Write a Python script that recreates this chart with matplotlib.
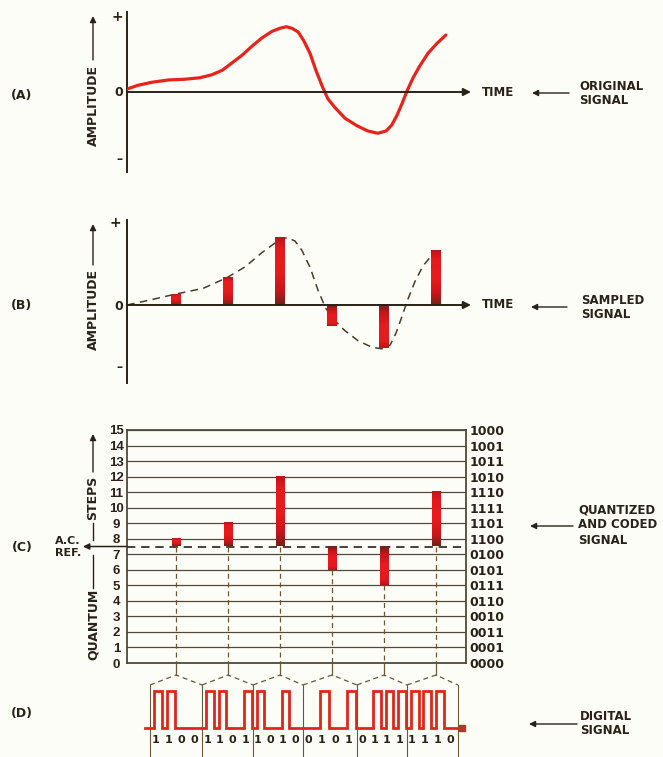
import matplotlib.pyplot as plt
from matplotlib.colors import LinearSegmentedColormap
import numpy as np

# (A) original signal (time in sample periods)
orig_t = [0.06, 0.27, 0.54, 0.85, 1.17, 1.46, 1.69, 1.89, 2.08, 2.27, 2.46, 2.65,
          2.85, 3.00, 3.12, 3.23, 3.35, 3.46, 3.58, 3.69, 3.81, 3.92, 4.06, 4.25,
          4.48, 4.69, 4.88, 5.04, 5.15, 5.25, 5.35, 5.44, 5.56, 5.69, 5.85, 6.02, 6.19]
orig_amp = [0.04, 0.09, 0.13, 0.16, 0.17, 0.19, 0.23, 0.29, 0.39, 0.49, 0.61, 0.72,
            0.81, 0.85, 0.87, 0.85, 0.80, 0.68, 0.51, 0.29, 0.08, -0.09, -0.21, -0.35,
            -0.45, -0.52, -0.55, -0.52, -0.44, -0.31, -0.15, 0.01, 0.19, 0.35, 0.52, 0.65, 0.76]

# (B) dashed envelope and the samples
env_t = [0.06, 0.50, 0.98, 1.52, 1.98, 2.33, 2.65, 3.02, 3.15, 3.29, 3.42, 3.58,
         3.73, 3.88, 4.04, 4.25, 4.50, 4.77, 4.98, 5.12, 5.23, 5.35, 5.46, 5.60,
         5.75, 5.92, 6.15]
env_amp = [0.0, 0.06, 0.13, 0.20, 0.33, 0.46, 0.63, 0.80, 0.81, 0.77, 0.66, 0.45,
           0.18, -0.04, -0.18, -0.31, -0.43, -0.51, -0.53, -0.48, -0.34, -0.13, 0.07, 0.29,
           0.47, 0.60, 0.68]
sample_t = [1, 2, 3, 4, 5, 6]
sample_amp = [0.13, 0.33, 0.81, -0.25, -0.52, 0.66]

# (C) quantum steps and their codes
levels = list(range(16))
codes = ['0000', '0001', '0011', '0010', '0110', '0111', '0101', '0100',
         '1100', '1101', '1111', '1110', '1010', '1011', '1001', '1000']
quant = [8, 9, 12, 6, 5, 11]
ac_ref = 7.5

# (D) digital word frames
frame_edges = [0.50, 1.50, 2.48, 3.44, 4.48, 5.44, 6.42]
line_start, line_end = 0.40, 6.50

BG = '#fdfdf7'
RED = '#e8231c'
INK = '#2a2118'
GRID = '#51483a'
BROWN = '#6a5638'
FONT = 'DejaVu Sans'

W, H = 663, 757
fig = plt.figure(figsize=(W / 100, H / 100), dpi=100)
fig.patch.set_facecolor(BG)


def t_of(px):
    return (px - 124) / 52.0


def add_px_axes(x0, y0, x1, y1):
    ax = fig.add_axes([x0 / W, 1 - y1 / H, (x1 - x0) / W, (y1 - y0) / H])
    ax.set_facecolor('none')
    return ax


# overlay in pixel coordinates for the captions
ov = add_px_axes(0, 0, W, H)
ov.set_xlim(0, W)
ov.set_ylim(H, 0)
ov.axis('off')


def txt(x, y, s, size=8.5, ha='left', rot=0):
    ov.text(x, y, s, fontsize=size, fontweight='bold', family=FONT, color=INK,
            ha=ha, va='center', rotation=rot)


def arrow(x0, y0, x1, y1, lw=1.0):
    ov.annotate('', xy=(x1, y1), xytext=(x0, y0),
                arrowprops=dict(arrowstyle='-|>', color=INK, lw=lw,
                                mutation_scale=9, shrinkA=0, shrinkB=0))


bar_cmap = LinearSegmentedColormap.from_list(
    'bar', [(0, '#6e2418'), (0.2, '#c8151a'), (0.5, '#e81c1e'),
            (0.85, '#e41a1e'), (1, '#b8161a')])


def grad_bar(ax, t, y0, y1, w):
    g = np.linspace(0, 1, 64).reshape(-1, 1)
    ax.imshow(g, extent=(t - w / 2, t + w / 2, y0, y1), origin='lower',
              cmap=bar_cmap, aspect='auto', interpolation='bilinear', zorder=3)


# ---------- (A) original signal ----------
axA = add_px_axes(127, 12, 480, 172)
axA.plot(orig_t, orig_amp, color=RED, lw=2.3, solid_capstyle='round',
         solid_joinstyle='round', zorder=3)
axA.set_xlim(t_of(127), t_of(480))
axA.set_ylim(-80 / 75, 80 / 75)
axA.axvline(t_of(127), color=INK, lw=1.4, clip_on=False)
axA.annotate('', xy=(t_of(471), 0), xytext=(t_of(127), 0), annotation_clip=False,
             arrowprops=dict(arrowstyle='-|>', color=INK, lw=1.4,
                             mutation_scale=11, shrinkA=0, shrinkB=0))
axA.axis('off')

txt(22, 95, '(A)', 9, 'center')
txt(93, 105, 'AMPLITUDE', 9, 'center', 90)
arrow(93, 60, 93, 16)
txt(117, 17, '+', 10, 'center')
txt(119, 93, '0', 9, 'center')
txt(119, 160, '\u2013', 9, 'center')
txt(482, 93, 'TIME')
arrow(569, 93, 532, 93)
txt(579, 87, 'ORIGINAL', 8.5)
txt(579, 101, 'SIGNAL', 8.5)

# ---------- (B) sampled signal ----------
axB = add_px_axes(127, 220, 480, 383)
axB.plot(env_t, env_amp, color='#4a3a28', lw=1.1, ls=(0, (5, 3.5)), zorder=2)
for t, a in zip(sample_t, sample_amp):
    grad_bar(axB, t, 0, a, 0.19)
axB.set_xlim(t_of(127), t_of(480))
axB.set_ylim(-78 / 83, 85 / 83)
axB.axvline(t_of(127), color=INK, lw=1.4, clip_on=False)
axB.annotate('', xy=(t_of(471), 0), xytext=(t_of(127), 0), annotation_clip=False,
             arrowprops=dict(arrowstyle='-|>', color=INK, lw=1.4,
                             mutation_scale=11, shrinkA=0, shrinkB=0))
axB.axis('off')

txt(22, 305, '(B)', 9, 'center')
txt(93, 309, 'AMPLITUDE', 9, 'center', 90)
arrow(93, 265, 93, 224)
txt(115, 223, '+', 10, 'center')
txt(119, 306, '0', 9, 'center')
txt(119, 368, '\u2013', 9, 'center')
txt(482, 305, 'TIME')
arrow(567, 307, 531, 307)
txt(581, 300, 'SAMPLED', 8.5)
txt(581, 314, 'SIGNAL', 8.5)

# ---------- (C) quantized and coded ----------
axC = add_px_axes(127, 430, 466, 663)
axC.set_yticks(levels)
axC.set_yticklabels([str(v) for v in levels], fontsize=9.5, fontweight='bold',
                    family='Liberation Sans', color=INK)
for lab in axC.get_yticklabels():
    lab.set_ha('center')
axC.tick_params(axis='y', length=0, pad=7.5)
axC.set_xticks([])
axC.grid(axis='y', color=GRID, lw=0.9)
axC.set_axisbelow(True)
for sp in axC.spines.values():
    sp.set_color(GRID)
    sp.set_linewidth(1.3)

axC2 = axC.twinx()
axC2.set_ylim(0, 15)
axC2.set_yticks(levels)
axC2.set_yticklabels(codes, fontsize=9, fontweight='bold', family=FONT, color=INK)
axC2.tick_params(axis='y', length=0, pad=2.5)
for sp in axC2.spines.values():
    sp.set_visible(False)

axC.axhline(ac_ref, color=INK, lw=1.2, ls=(0, (5, 3.5)), zorder=2)
axC.annotate('', xy=(t_of(83), ac_ref), xytext=(t_of(127), ac_ref), annotation_clip=False,
             arrowprops=dict(arrowstyle='-|>', color=INK, lw=1.1,
                             mutation_scale=9, shrinkA=0, shrinkB=0))
for t, q in zip(sample_t, quant):
    grad_bar(axC, t, ac_ref, q, 0.17)
    axC.plot([t, t], [min(q, ac_ref), 0], color=BROWN, lw=0.9,
             ls=(0, (4, 3)), zorder=2)
axC.set_xlim(t_of(127), t_of(466))
axC.set_ylim(0, 15)

txt(22, 547, '(C)', 9, 'center')
txt(68, 541, 'A.C.', 8, 'center')
txt(68, 553, 'REF.', 8, 'center')
txt(93, 624, 'QUANTUM', 9, 'center', 90)
txt(93, 498, 'STEPS', 9, 'center', 90)
ov.plot([93, 93], [555, 588], color=INK, lw=1.0)
ov.plot([93, 93], [523, 540], color=INK, lw=1.0)
arrow(93, 472, 93, 434)
arrow(573, 526, 530, 526)
txt(578, 510, 'QUANTIZED', 8.5)
txt(578, 525, 'AND CODED', 8.5)
txt(578, 540, 'SIGNAL', 8.5)

# ---------- (D) digital signal ----------
axD = add_px_axes(127, 663, 480, 757)
axD.set_xlim(t_of(127), t_of(480))
axD.set_ylim(-29 / 37, 65 / 37)
axD.axis('off')

peak_v, end_v = 53 / 37, 43 / 37
for e in frame_edges:
    axD.plot([e, e], [end_v, -29 / 37], color=BROWN, lw=0.8)
for k, t in enumerate(sample_t):
    axD.plot([t, t], [65 / 37, peak_v], color=BROWN, lw=0.9)
    axD.plot([frame_edges[k], t, frame_edges[k + 1]], [end_v, peak_v, end_v],
             color=BROWN, lw=0.9, ls=(0, (4, 3)))

xs, ys = [line_start], [0]
for k, q in enumerate(quant):
    e0, e1 = frame_edges[k], frame_edges[k + 1]
    w = (e1 - e0) / 4
    for i, b in enumerate(codes[q]):
        if b == '1':
            a0, a1 = e0 + (i + 0.3) * w, e0 + (i + 0.92) * w
            xs += [a0, a0, a1, a1]
            ys += [0, 1, 1, 0]
        axD.text(e0 + (i + 0.4) * w, -0.33, b, fontsize=8, fontweight='bold',
                 family=FONT, color=INK, ha='center', va='center')
xs.append(line_end)
ys.append(0)
axD.plot(xs, ys, color='#e0261a', lw=2.0, solid_joinstyle='miter', zorder=3)
axD.plot([line_end], [0], marker='s', ms=4, color='#b03a1a', zorder=4)

txt(22, 713, '(D)', 9, 'center')
arrow(577, 724, 529, 724)
txt(580, 717, 'DIGITAL', 8.5)
txt(580, 731, 'SIGNAL', 8.5)

fig.savefig('out.png', dpi=100, facecolor=BG)
